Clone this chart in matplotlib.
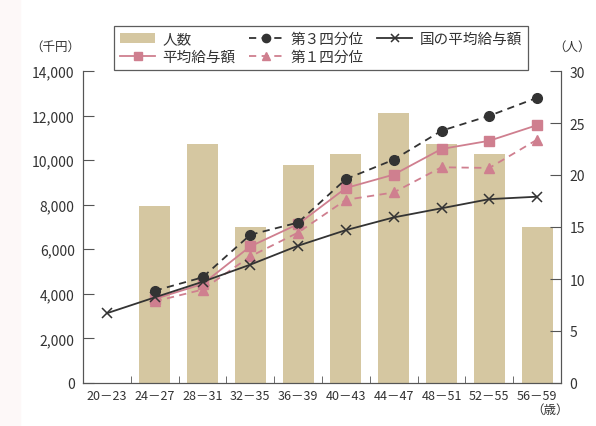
import matplotlib.pyplot as plt
from matplotlib.patches import Rectangle
import numpy as np

plt.rcParams['font.family'] = ['Noto Sans CJK JP', 'DejaVu Sans']

ages = ["20－23", "24－27", "28－31", "32－35", "36－39",
        "40－43", "44－47", "48－51", "52－55", "56－59"]
people = [0, 17, 23, 15, 21, 22, 26, 23, 22, 15]
avg_pay = [None, 3770, 4440, 6130, 7130, 8750, 9350, 10500, 10870, 11570]
q3_pay = [None, 4140, 4740, 6650, 7200, 9150, 10020, 11320, 11990, 12800]
q1_pay = [None, 3660, 4190, 5680, 6750, 8220, 8550, 9680, 9650, 10920]
national_pay = [3130, 3840, 4540, 5310, 6160, 6860, 7430, 7840, 8250, 8360]

bar_color = "#d5c7a1"
pink = "#cf7f8f"
dark = "#333333"
grey = "#555555"

x = np.arange(len(ages))


def series(vals):
    xs = [i for i, v in enumerate(vals) if v is not None]
    ys = [v for v in vals if v is not None]
    return xs, ys


fig = plt.figure(figsize=(5.96, 4.27), dpi=100)
fig.patches.append(Rectangle((0, 0), 20 / 596, 1, transform=fig.transFigure,
                             color="#fdf8f8", zorder=-1))
ax2 = fig.add_axes([83 / 596, 1 - 384 / 427, 478 / 596, 312 / 427])
ax = ax2.twinx()

# people bars on the right axis, drawn underneath
bars = ax2.bar(x, people, width=0.65, color=bar_color, label="人数", zorder=1)
ax2.set_ylim(0, 30)
ax2.set_yticks(range(0, 31, 5))
ax2.yaxis.tick_right()
ax2.yaxis.set_label_position("right")

xs, ys = series(avg_pay)
l_avg, = ax.plot(xs, ys, color=pink, lw=1.3, marker="s", ms=6.5, label="平均給与額")
xs, ys = series(q3_pay)
l_q3, = ax.plot(xs, ys, color=dark, lw=1.3, ls=(0, (4, 3)), marker="o", ms=7,
                label="第３四分位")
xs, ys = series(q1_pay)
l_q1, = ax.plot(xs, ys, color=pink, lw=1.3, ls=(0, (4, 3)), marker="^", ms=7,
                label="第１四分位")
l_nat, = ax.plot(x, national_pay, color=dark, lw=1.3, marker="x", ms=6.5, mew=1.1,
                 label="国の平均給与額")
ax.set_ylim(0, 14000)
ax.set_yticks(range(0, 14001, 2000))
ax.yaxis.tick_left()
ax.yaxis.set_label_position("left")
ax.set_yticklabels([f"{v:,}" for v in range(0, 14001, 2000)])
ax.set_xlim(-0.5, len(ages) - 0.5)

for a in (ax, ax2):
    a.spines["top"].set_visible(False)
    for s in ("left", "right", "bottom"):
        a.spines[s].set_color(grey)
    a.tick_params(axis="y", direction="in", length=8, color=grey,
                  labelsize=10, labelcolor="#333333", pad=6)

ax2.set_xticks(x)
ax2.set_xticklabels(ages, fontsize=9, color="#333333")
ax2.set_xticks(x[1:] - 0.5, minor=True)
ax2.tick_params(axis="x", which="major", length=0, pad=4)
ax2.tick_params(axis="x", which="minor", direction="in", length=5, color=grey)

fig.text(55 / 596, 1 - 47 / 427, "（千円）", fontsize=9, color="#333333",
         ha="center", va="center")
fig.text(572 / 596, 1 - 47 / 427, "（人）", fontsize=9, color="#333333",
         ha="center", va="center")
fig.text(550 / 596, 1 - 410 / 427, "（歳）", fontsize=9, color="#333333",
         ha="center", va="center")

leg = ax.legend(handles=[bars, l_avg, l_q3, l_q1, l_nat], ncol=3,
                loc="center", bbox_to_anchor=(321 / 596, 1 - 49 / 427),
                bbox_transform=fig.transFigure, fontsize=10.5, frameon=True,
                fancybox=False, edgecolor=dark, handlelength=2.4,
                columnspacing=0.9, handletextpad=0.5, labelspacing=0.3,
                borderpad=0.4, markerscale=0.85)
leg.get_frame().set_linewidth(0.9)
for t in leg.get_texts():
    t.set_color("#333333")
leg.set_zorder(10)

fig.savefig("out.png", dpi=100)
